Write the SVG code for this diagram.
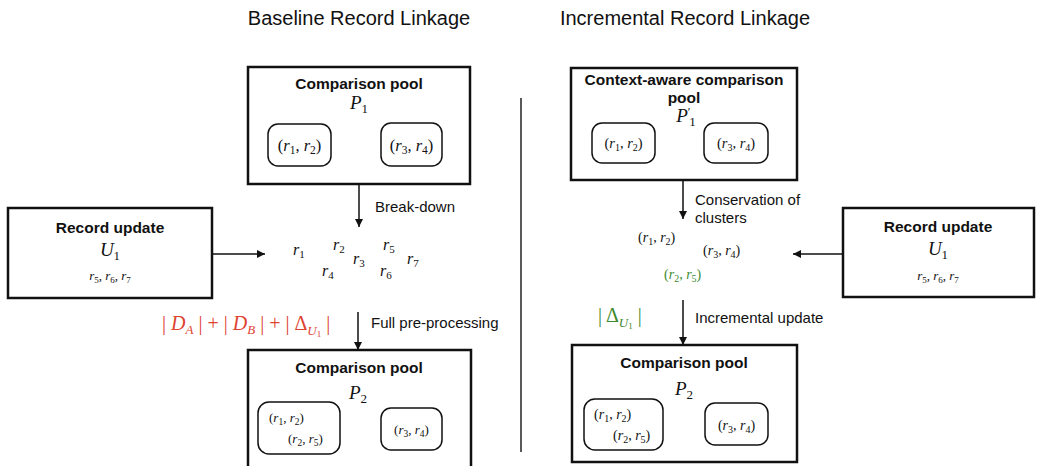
<svg xmlns="http://www.w3.org/2000/svg" width="1038" height="466" viewBox="0 0 1038 466">
  <style>
    .title { font-family: "Liberation Sans", Arial, sans-serif; font-size: 20px; fill: #111; text-anchor: middle; }
    .head { font-family: "Liberation Sans", Arial, sans-serif; font-size: 15.5px; font-weight: bold; fill: #111; text-anchor: middle; }
    .lbl { font-family: "Liberation Sans", Arial, sans-serif; font-size: 15px; fill: #111; }
    .m { font-family: "Liberation Serif", "Times New Roman", serif; fill: #111; }
    .i { font-style: italic; }
    .box { fill: #fff; stroke: #111; stroke-width: 2.5; }
    .rbox { fill: #fff; stroke: #111; stroke-width: 1.5; }
    .edge { stroke: #111; stroke-width: 1.5; fill: none; marker-end: url(#ah); }
    .red { fill: #de4330; }
    .green { fill: #3d8a2f; }
  </style>
  <defs>
    <marker id="ah" viewBox="0 0 10 10" refX="10" refY="5" markerWidth="8" markerHeight="8" markerUnits="userSpaceOnUse" orient="auto">
      <path d="M0,0 L10,5 L0,10 z" fill="#111"/>
    </marker>
  </defs>

  <rect width="1038" height="466" fill="#fff"/>

  <!-- section titles -->
  <text class="title" x="359" y="25">Baseline Record Linkage</text>
  <text class="title" x="685" y="25">Incremental Record Linkage</text>

  <!-- divider -->
  <line x1="521" y1="98" x2="521" y2="452" stroke="#222" stroke-width="1.5"/>

  <!-- connectors -->
  <g id="connectors">
    <line class="edge" x1="359" y1="184" x2="359" y2="227"/>
    <line class="edge" x1="212" y1="254" x2="265" y2="254"/>
    <line class="edge" x1="358" y1="312" x2="358" y2="350"/>
    <line class="edge" x1="683" y1="180" x2="683" y2="219"/>
    <line class="edge" x1="843" y1="254" x2="793" y2="254"/>
    <line class="edge" x1="683" y1="300" x2="683" y2="345"/>
  </g>

  <!-- edge labels -->
  <text class="lbl" x="375" y="212">Break-down</text>
  <text class="lbl" x="371" y="328">Full pre-processing</text>
  <text class="lbl" x="695" y="205">Conservation of</text>
  <text class="lbl" x="695" y="223">clusters</text>
  <text class="lbl" x="695" y="323">Incremental update</text>

  <!-- cost annotations -->
  <text class="m red" x="162" y="330" font-size="20">| <tspan class="i">D</tspan><tspan class="i" font-size="13" dy="4">A</tspan><tspan dy="-4"> | + | </tspan><tspan class="i">D</tspan><tspan class="i" font-size="13" dy="4">B</tspan><tspan dy="-4"> | + | Δ</tspan><tspan class="i" font-size="13" dy="5">U</tspan><tspan font-size="9" dy="2">1</tspan><tspan dy="-7"> |</tspan></text>
  <text class="m green" x="598" y="322" font-size="20">| Δ<tspan class="i" font-size="13" dy="5">U</tspan><tspan font-size="9" dy="2">1</tspan><tspan dy="-7"> |</tspan></text>

  <!-- baseline: comparison pool P1 -->
  <g id="pool-p1">
    <rect class="box" x="248" y="67" width="222" height="117"/>
    <text class="head" x="359" y="89">Comparison pool</text>
    <text class="m" x="359" y="109" text-anchor="middle" font-size="19"><tspan class="i">P</tspan><tspan font-size="13" dy="4">1</tspan></text>
    <rect class="rbox" x="268" y="124" width="63" height="42" rx="10"/>
    <text class="m" x="299.5" y="151" text-anchor="middle" font-size="16.5">(<tspan class="i">r</tspan><tspan font-size="11.5" dy="3">1</tspan><tspan dy="-3">, </tspan><tspan class="i">r</tspan><tspan font-size="11.5" dy="3">2</tspan><tspan dy="-3">)</tspan></text>
    <rect class="rbox" x="381" y="123" width="61" height="43" rx="10"/>
    <text class="m" x="411.5" y="151" text-anchor="middle" font-size="16.5">(<tspan class="i">r</tspan><tspan font-size="11.5" dy="3">3</tspan><tspan dy="-3">, </tspan><tspan class="i">r</tspan><tspan font-size="11.5" dy="3">4</tspan><tspan dy="-3">)</tspan></text>
  </g>

  <!-- baseline: record update U1 -->
  <g id="update-left">
    <rect class="box" x="8" y="208" width="204" height="90"/>
    <text class="head" x="110" y="233">Record update</text>
    <text class="m" x="110" y="256" text-anchor="middle" font-size="19"><tspan class="i">U</tspan><tspan font-size="13" dy="4">1</tspan></text>
    <text class="m" x="110" y="280" text-anchor="middle" font-size="13"><tspan class="i">r</tspan><tspan font-size="9" dy="3">5</tspan><tspan dy="-3">, </tspan><tspan class="i">r</tspan><tspan font-size="9" dy="3">6</tspan><tspan dy="-3">, </tspan><tspan class="i">r</tspan><tspan font-size="9" dy="3">7</tspan></text>
  </g>

  <!-- baseline: individual records after break-down -->
  <g id="records" class="m" font-size="16">
    <text x="293" y="255"><tspan class="i">r</tspan><tspan font-size="11" dy="3">1</tspan></text>
    <text x="333" y="250"><tspan class="i">r</tspan><tspan font-size="11" dy="3">2</tspan></text>
    <text x="383" y="250"><tspan class="i">r</tspan><tspan font-size="11" dy="3">5</tspan></text>
    <text x="353" y="264"><tspan class="i">r</tspan><tspan font-size="11" dy="3">3</tspan></text>
    <text x="407" y="264"><tspan class="i">r</tspan><tspan font-size="11" dy="3">7</tspan></text>
    <text x="322" y="276"><tspan class="i">r</tspan><tspan font-size="11" dy="3">4</tspan></text>
    <text x="380" y="276"><tspan class="i">r</tspan><tspan font-size="11" dy="3">6</tspan></text>
  </g>

  <!-- baseline: comparison pool P2 -->
  <g id="pool-p2-left">
    <rect class="box" x="248" y="350" width="223" height="130"/>
    <text class="head" x="359" y="373">Comparison pool</text>
    <text class="m" x="358" y="399" text-anchor="middle" font-size="19"><tspan class="i">P</tspan><tspan font-size="13" dy="4">2</tspan></text>
    <rect class="rbox" x="258" y="402" width="82" height="52" rx="11"/>
    <text class="m" x="269" y="422" font-size="13">(<tspan class="i">r</tspan><tspan font-size="9.5" dy="3">1</tspan><tspan dy="-3">, </tspan><tspan class="i">r</tspan><tspan font-size="9.5" dy="3">2</tspan><tspan dy="-3">)</tspan></text>
    <text class="m" x="288" y="443" font-size="13">(<tspan class="i">r</tspan><tspan font-size="9.5" dy="3">2</tspan><tspan dy="-3">, </tspan><tspan class="i">r</tspan><tspan font-size="9.5" dy="3">5</tspan><tspan dy="-3">)</tspan></text>
    <rect class="rbox" x="381" y="408" width="61" height="42" rx="10"/>
    <text class="m" x="411.5" y="434" text-anchor="middle" font-size="13">(<tspan class="i">r</tspan><tspan font-size="9.5" dy="3">3</tspan><tspan dy="-3">, </tspan><tspan class="i">r</tspan><tspan font-size="9.5" dy="3">4</tspan><tspan dy="-3">)</tspan></text>
  </g>

  <!-- incremental: context-aware comparison pool P1' -->
  <g id="pool-p1-prime">
    <rect class="box" x="571" y="68" width="226" height="112"/>
    <text class="head" x="684" y="85">Context-aware comparison</text>
    <text class="head" x="684" y="103">pool</text>
    <text class="m" x="686" y="122" text-anchor="middle" font-size="19"><tspan class="i">P</tspan><tspan font-size="12" dy="-6">′</tspan><tspan font-size="13" dx="-1" dy="10">1</tspan></text>
    <rect class="rbox" x="592" y="123" width="63" height="40" rx="10"/>
    <text class="m" x="623.5" y="148" text-anchor="middle" font-size="14.5">(<tspan class="i">r</tspan><tspan font-size="10" dy="3">1</tspan><tspan dy="-3">, </tspan><tspan class="i">r</tspan><tspan font-size="10" dy="3">2</tspan><tspan dy="-3">)</tspan></text>
    <rect class="rbox" x="704" y="123" width="64" height="40" rx="10"/>
    <text class="m" x="736" y="148" text-anchor="middle" font-size="14.5">(<tspan class="i">r</tspan><tspan font-size="10" dy="3">3</tspan><tspan dy="-3">, </tspan><tspan class="i">r</tspan><tspan font-size="10" dy="3">4</tspan><tspan dy="-3">)</tspan></text>
  </g>

  <!-- incremental: conserved clusters -->
  <g id="clusters" class="m" font-size="14">
    <text x="638" y="242">(<tspan class="i">r</tspan><tspan font-size="10" dy="3">1</tspan><tspan dy="-3">, </tspan><tspan class="i">r</tspan><tspan font-size="10" dy="3">2</tspan><tspan dy="-3">)</tspan></text>
    <text x="703" y="255">(<tspan class="i">r</tspan><tspan font-size="10" dy="3">3</tspan><tspan dy="-3">, </tspan><tspan class="i">r</tspan><tspan font-size="10" dy="3">4</tspan><tspan dy="-3">)</tspan></text>
    <text class="green" x="664" y="279">(<tspan class="i">r</tspan><tspan font-size="10" dy="3">2</tspan><tspan dy="-3">, </tspan><tspan class="i">r</tspan><tspan font-size="10" dy="3">5</tspan><tspan dy="-3">)</tspan></text>
  </g>

  <!-- incremental: record update U1 -->
  <g id="update-right">
    <rect class="box" x="843" y="208" width="191" height="89"/>
    <text class="head" x="938" y="232">Record update</text>
    <text class="m" x="938" y="255" text-anchor="middle" font-size="19"><tspan class="i">U</tspan><tspan font-size="13" dy="4">1</tspan></text>
    <text class="m" x="938" y="280" text-anchor="middle" font-size="13"><tspan class="i">r</tspan><tspan font-size="9" dy="3">5</tspan><tspan dy="-3">, </tspan><tspan class="i">r</tspan><tspan font-size="9" dy="3">6</tspan><tspan dy="-3">, </tspan><tspan class="i">r</tspan><tspan font-size="9" dy="3">7</tspan></text>
  </g>

  <!-- incremental: comparison pool P2 -->
  <g id="pool-p2-right">
    <rect class="box" x="572" y="345" width="225" height="117"/>
    <text class="head" x="684" y="368">Comparison pool</text>
    <text class="m" x="684" y="395" text-anchor="middle" font-size="19"><tspan class="i">P</tspan><tspan font-size="13" dy="4">2</tspan></text>
    <rect class="rbox" x="584" y="399" width="79" height="51" rx="11"/>
    <text class="m" x="594" y="419" font-size="14">(<tspan class="i">r</tspan><tspan font-size="10" dy="3">1</tspan><tspan dy="-3">, </tspan><tspan class="i">r</tspan><tspan font-size="10" dy="3">2</tspan><tspan dy="-3">)</tspan></text>
    <text class="m" x="613" y="440" font-size="14">(<tspan class="i">r</tspan><tspan font-size="10" dy="3">2</tspan><tspan dy="-3">, </tspan><tspan class="i">r</tspan><tspan font-size="10" dy="3">5</tspan><tspan dy="-3">)</tspan></text>
    <rect class="rbox" x="705" y="403" width="63" height="42" rx="10"/>
    <text class="m" x="736.5" y="430" text-anchor="middle" font-size="14">(<tspan class="i">r</tspan><tspan font-size="10" dy="3">3</tspan><tspan dy="-3">, </tspan><tspan class="i">r</tspan><tspan font-size="10" dy="3">4</tspan><tspan dy="-3">)</tspan></text>
  </g>
</svg>
